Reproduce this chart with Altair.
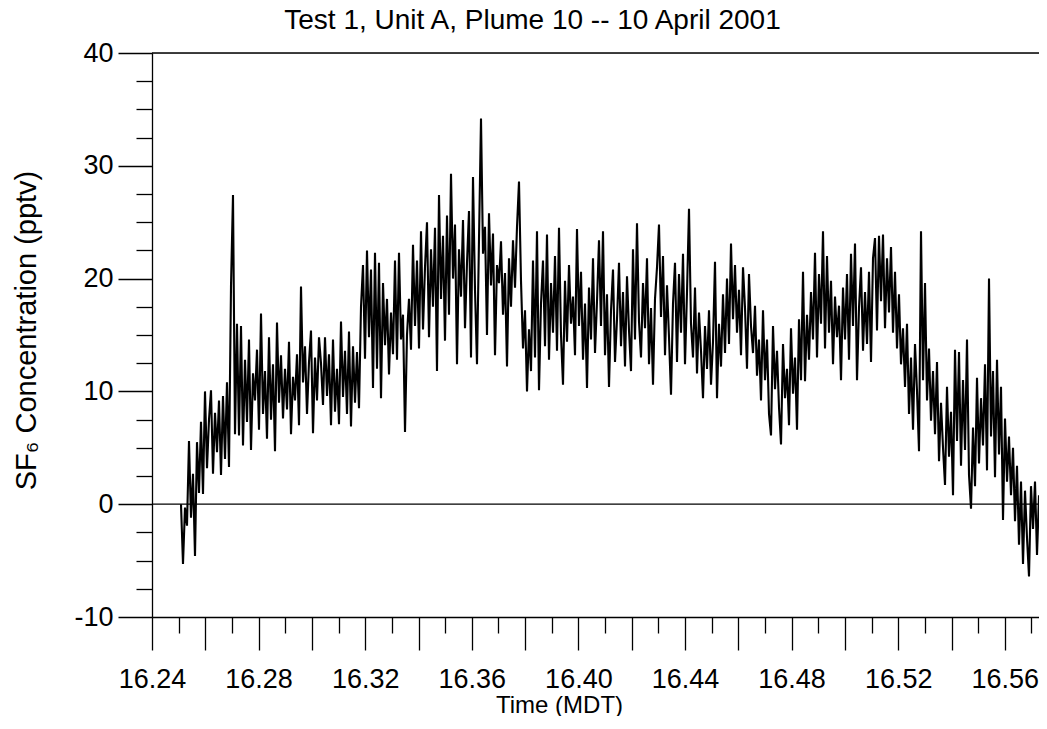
import altair as alt
import pandas as pd

# sampling grid (hours, MDT)
t_start = 16.25088
t_step = 0.00075047

# SF6 concentration (pptv)
rise = [
    0, -5.3, -0.3, -1.9, 5.6, -1.2, 2.7, -4.6, 5.5, 1.0,
    7.3, 0.9, 10.0, 3.2, 7.5, 10.1, 2.7, 8.1, 4.6, 9.2,
    2.6, 9.6, 4.0, 10.8, 3.3, 19.3, 27.4, 6.2, 16.0, 6.1,
    15.8, 5.2, 12.8, 7.3, 14.6, 4.8, 11.6, 9.2, 13.7, 6.6,
    16.9, 8.0, 11.8, 5.8, 14.8, 7.5, 12.4, 4.7, 16.1, 9.0,
    13.2, 7.6, 12.0, 8.4, 14.4, 6.2, 11.3, 9.2, 13.3, 7.0,
    19.3, 10.8, 14.0, 8.0, 12.6, 15.4, 6.3, 13.0, 9.2, 14.8,
]
mid_rise = [
    12.5, 8.8, 14.8, 9.6, 13.3, 7.0, 14.6, 8.2, 12.0, 7.1,
    16.2, 9.5, 13.6, 8.0, 15.3, 6.9, 14.0, 9.0, 13.5, 8.5,
    17.5, 21.2, 12.9, 22.5, 14.8, 20.8, 10.3, 22.3, 12.0, 21.4,
    9.4, 19.6, 14.1, 18.2, 11.5, 17.0, 13.3, 21.6, 12.8, 22.3,
    14.6, 16.8, 6.4, 15.0, 18.2, 13.7, 23.0, 15.8, 21.6, 13.8,
    24.2, 15.5, 21.0, 25.0, 14.8, 22.6, 17.5, 24.5, 11.8, 27.4,
    18.2, 23.8, 14.5, 25.6, 16.8, 29.3, 20.0, 24.8, 12.4, 22.6,
    18.4, 25.2, 15.6, 21.4, 26.0, 13.0, 29.0, 19.0, 12.4, 23.5,
    34.2, 22.2, 24.6, 15.0, 25.8, 19.4, 24.0, 13.2, 21.2, 19.6,
]
plateau1 = [
    23.3, 16.8, 20.5, 12.2, 21.8, 17.5, 23.4, 19.2, 24.6, 28.6,
    19.8, 13.8, 17.2, 10.0, 15.5, 11.8, 21.6, 13.0, 24.2, 10.1,
    17.8, 21.6, 14.0, 23.9, 12.8, 19.6, 15.2, 22.0, 13.6, 24.5,
    15.0, 10.6, 19.8, 14.4, 21.2, 16.0, 18.4, 13.2, 24.4, 15.8,
    20.6, 12.8, 17.8, 10.3, 19.2, 14.6, 21.8, 13.4, 18.0, 23.4,
    15.8, 24.2, 13.2, 18.6, 10.4, 17.2, 20.8, 12.6, 16.4, 21.4,
    14.0, 18.8, 12.2, 20.2, 15.4, 11.8, 22.6, 14.6, 24.9, 16.2,
    13.0, 19.6, 15.6, 21.8, 12.4, 17.4, 10.6, 18.2, 21.0, 24.8,
    16.6, 22.0, 13.2, 19.4, 14.8, 9.7, 17.8, 21.4, 12.6, 20.4,
    15.2, 22.2, 12.4, 18.8, 26.2, 16.0, 13.0, 19.2, 11.6, 17.0,
]
plateau2 = [
    13.6, 9.4, 15.8, 12.0, 17.2, 10.6, 14.4, 21.5, 9.4, 16.0,
    12.2, 18.6, 13.4, 20.0, 14.2, 23.1, 16.4, 21.2, 15.2, 19.0,
    13.2, 21.0, 17.4, 12.0, 20.4, 15.8, 13.4, 17.6, 11.4, 14.6,
    9.2, 17.2, 11.0, 14.6, 8.0, 6.1, 15.8, 10.2, 13.6, 8.6,
    5.3, 14.2, 9.4, 12.0, 7.0, 15.6, 9.8, 13.0, 6.6, 16.4,
    11.0, 20.6, 10.9, 16.8, 12.8, 18.8, 14.6, 22.3, 13.0, 20.4,
    16.0, 24.2, 13.8, 22.0, 15.2, 19.8, 12.4, 18.4, 14.8, 17.6,
    11.0, 19.2, 14.6, 20.4, 12.8, 22.2, 15.8, 23.1, 11.0, 17.4,
    21.0, 13.6, 18.8, 14.2, 20.6, 12.6, 21.8, 23.6, 15.4, 23.8,
    18.0, 23.9, 15.6, 21.8, 17.0, 22.8, 15.2, 20.6, 13.8, 18.6,
]
fall = [
    12.4, 15.6, 10.4, 16.0, 8.0, 13.0, 6.6, 14.2, 10.0, 4.7,
    24.2, 11.0, 19.6, 9.2, 13.8, 7.4, 11.8, 6.2, 12.6, 3.8,
    9.0, 5.0, 1.7, 10.4, 4.2, 8.2, 0.8, 13.7, 5.6, 13.5,
    3.4, 11.0, 4.8, 14.6, 2.6, -0.4, 6.8, 1.6, 11.2, 3.6,
    9.4, 5.2, 12.4, 3.0, 20.0, 6.0, 11.8, 2.4, 12.8, 4.4,
    10.4, -1.4, 7.6, 2.0, 6.0, 0.8, 5.0, -1.5, 3.4, -3.6,
    2.0, -5.3, 1.2, -3.0, -6.4, 1.6, -2.2, 2.0, -4.5, 0.8,
]

x_ticks = [round(16.24 + 0.01 * k, 2) for k in range(34)]
y_ticks = [-10 + 2.5 * k for k in range(21)]
ref_lines = [0, 40]

conc = rise + mid_rise + plateau1 + plateau2 + fall
df = pd.DataFrame({"t": [t_start + i * t_step for i in range(len(conc))], "c": conc})

FONT = "Liberation Sans"

x_axis = alt.Axis(
    values=x_ticks,
    tickSize={"condition": {"test": "abs(round(datum.value*100)) % 2 == 0", "value": 33}, "value": 16},
    labelExpr="round(datum.value*100) % 4 == 0 ? format(datum.value, '.2f') : ''",
    labelPadding=16, labelFont=FONT, labelFontSize=27, labelColor="black",
    labelFlush=False, labelOverlap=False,
    title="Time (MDT)", titleFont=FONT, titleFontSize=24, titleFontWeight="normal",
    titleColor="black", titleX=407, titleY=95, titleAlign="center", titleBaseline="alphabetic",
    domainColor="black", domainWidth=1.3, tickColor="black", tickWidth=1.3, grid=False,
)
y_axis = alt.Axis(
    values=y_ticks,
    tickSize={"condition": {"test": "datum.value % 10 == 0", "value": 34}, "value": 16},
    labelExpr="datum.value % 10 == 0 ? '' + datum.value : ''",
    labelPadding=5, labelFont=FONT, labelFontSize=27, labelColor="black",
    labelFlush=False, labelOverlap=False,
    title="SF₆ Concentration (pptv)", titleFont=FONT, titleFontSize=29, titleFontWeight="normal",
    titleColor="black", titleX=-117, titleY=277, titleAngle=270, titleAlign="center",
    titleBaseline="alphabetic",
    domainColor="black", domainWidth=1.3, tickColor="black", tickWidth=1.3, grid=False,
)

xs = alt.Scale(domain=[16.24, 16.57283], nice=False, zero=False)
ys = alt.Scale(domain=[-10, 40], nice=False, zero=False)

line = alt.Chart(df).mark_line(color="black", strokeWidth=2.1).encode(
    x=alt.X("t:Q", scale=xs, axis=x_axis),
    y=alt.Y("c:Q", scale=ys, axis=y_axis),
)
rules = alt.Chart(pd.DataFrame({"v": ref_lines})).mark_rule(color="black", strokeWidth=1.3).encode(
    y=alt.Y("v:Q", scale=ys, axis=y_axis)
)

chart = (
    alt.layer(line, rules)
    .properties(
        width=887, height=564,
        title=alt.TitleParams(
            "Test 1, Unit A, Plume 10 -- 10 April 2001",
            font=FONT, fontSize=28, fontWeight="normal", color="black",
            anchor="middle", dx=-63, offset=4,
        ),
        autosize=alt.AutoSizeParams(type="none"),
        padding={"left": 144, "top": 45, "right": 0, "bottom": 99},
    )
    .configure_view(stroke=None)
    .configure(background="white")
)

chart.save("out.html", embed_options={"renderer": "svg", "actions": False})
